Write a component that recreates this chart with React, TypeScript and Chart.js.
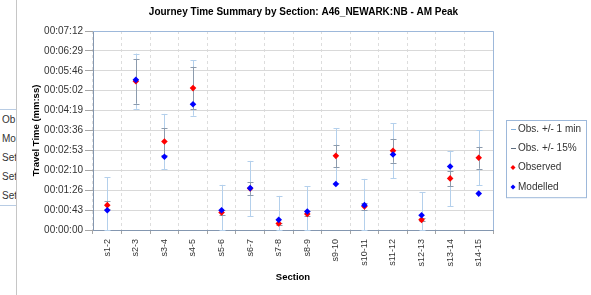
import React, { useEffect, useRef } from "react";
import { Chart, registerables } from "chart.js";

Chart.register(...registerables);

const chartTitle = "Journey Time Summary by Section: A46_NEWARK:NB - AM Peak";
const xAxisTitle = "Section";
const yAxisTitle = "Travel Time (mm:ss)";

const sections = ["s1-2", "s2-3", "s3-4", "s4-5", "s5-6", "s6-7", "s7-8", "s8-9", "s9-10", "s10-11", "s11-12", "s12-13", "s13-14", "s14-15"];
// travel times in seconds
const observedSec = [54, 323, 192, 308, 38, 90, 14, 35, 161, 51, 172, 22, 112, 157];
const modelledSec = [43, 326, 159, 273, 43, 91, 22, 40, 100, 54, 164, 32, 138, 79];

const yTickSeconds = [0, 43.2, 86.4, 129.6, 172.8, 216, 259.2, 302.4, 345.6, 388.8, 432];
const yTickLabels = ["00:00:00", "00:00:43", "00:01:26", "00:02:10", "00:02:53", "00:03:36", "00:04:19", "00:05:02", "00:05:46", "00:06:29", "00:07:12"];

const absTolSec = 60;
const pctTol = 0.15;

const legendLabels = ["Obs. +/- 1 min", "Obs. +/- 15%", "Observed", "Modelled"];
const sideLabels = ["Ob", "Mo", "Set", "Set", "Set"];

const FONT = "'Liberation Sans', Arial, sans-serif";
const C_ABS = "#B4D0EC";
const C_PCT = "#8C9BAD";
const C_OBS = "#FF0000";
const C_MOD = "#0000FF";
const C_FRAME = "#9DB8DA";

function drawBar(ctx: CanvasRenderingContext2D, x: number, yLo: number, yHi: number, color: string) {
  const cx = Math.round(x) + 0.5;
  ctx.strokeStyle = color;
  ctx.lineWidth = 1;
  ctx.beginPath();
  ctx.moveTo(cx, yLo);
  ctx.lineTo(cx, yHi);
  ctx.moveTo(cx - 3, Math.round(yHi) + 0.5);
  ctx.lineTo(cx + 3, Math.round(yHi) + 0.5);
  ctx.moveTo(cx - 3, Math.round(yLo) + 0.5);
  ctx.lineTo(cx + 3, Math.round(yLo) + 0.5);
  ctx.stroke();
}

const extrasPlugin = {
  id: "extras",
  beforeDatasetsDraw(chart: any) {
    const { ctx, chartArea } = chart;
    const xs = chart.scales.x;
    const ys = chart.scales.y;
    ctx.save();
    // plot frame (top / right)
    ctx.strokeStyle = C_FRAME;
    ctx.lineWidth = 1;
    ctx.beginPath();
    ctx.moveTo(chartArea.left, Math.round(chartArea.top) + 0.5);
    ctx.lineTo(Math.round(chartArea.right) + 0.5, Math.round(chartArea.top) + 0.5);
    ctx.lineTo(Math.round(chartArea.right) + 0.5, chartArea.bottom);
    ctx.stroke();
    // error bars
    observedSec.forEach((v, i) => {
      const px = xs.getPixelForValue(i);
      drawBar(ctx, px, ys.getPixelForValue(Math.max(0, v - absTolSec)), ys.getPixelForValue(v + absTolSec), C_ABS);
      drawBar(ctx, px, ys.getPixelForValue(v * (1 - pctTol)), ys.getPixelForValue(v * (1 + pctTol)), C_PCT);
    });
    ctx.restore();
  },
  afterDraw(chart: any) {
    const { ctx, chartArea } = chart;
    const left = Math.round(chartArea.right) + 13;
    const top = 120;
    const w = 80;
    const rowH = 19.3;
    const h = rowH * legendLabels.length + 0;
    ctx.save();
    ctx.strokeStyle = C_FRAME;
    ctx.lineWidth = 1;
    ctx.strokeRect(left + 0.5, top + 0.5, w, h);
    ctx.font = `10px ${FONT}`;
    ctx.textBaseline = "middle";
    ctx.textAlign = "left";
    const colors = [C_ABS, C_PCT, C_OBS, C_MOD];
    legendLabels.forEach((lab, i) => {
      const cy = top + 9 + i * rowH;
      const sx = left + 7;
      if (i < 2) {
        ctx.strokeStyle = i === 0 ? "#7FAEDC" : "#5F6E80";
        ctx.beginPath();
        ctx.moveTo(sx - 2, Math.round(cy) + 0.5);
        ctx.lineTo(sx + 3, Math.round(cy) + 0.5);
        ctx.stroke();
      } else {
        ctx.fillStyle = colors[i];
        ctx.beginPath();
        ctx.moveTo(sx, cy - 2.5);
        ctx.lineTo(sx + 2.5, cy);
        ctx.lineTo(sx, cy + 2.5);
        ctx.lineTo(sx - 2.5, cy);
        ctx.closePath();
        ctx.fill();
      }
      ctx.fillStyle = "#333333";
      ctx.fillText(lab, left + 12, cy);
    });
    ctx.restore();
  },
};

export default function App() {
  const ref = useRef<HTMLCanvasElement | null>(null);

  useEffect(() => {
    document.body.style.margin = "0";
    const canvas = ref.current;
    if (!canvas) return;
    Chart.defaults.font.family = FONT;
    const chart = new Chart(canvas, {
      type: "line",
      data: {
        labels: sections,
        datasets: [
          {
            label: "Observed",
            data: observedSec,
            showLine: false,
            pointStyle: "rectRot",
            pointRadius: 3.3,
            pointBackgroundColor: C_OBS,
            pointBorderColor: C_OBS,
            pointBorderWidth: 0,
            order: 1,
          },
          {
            label: "Modelled",
            data: modelledSec,
            showLine: false,
            pointStyle: "rectRot",
            pointRadius: 3.3,
            pointBackgroundColor: C_MOD,
            pointBorderColor: C_MOD,
            pointBorderWidth: 0,
            order: 0,
          },
        ],
      },
      options: {
        responsive: false,
        animation: false,
        devicePixelRatio: 1,
        layout: { padding: { left: 16, right: 0, top: 0, bottom: 0 } },
        plugins: {
          legend: { display: false },
          tooltip: { enabled: false },
          title: {
            display: true,
            text: chartTitle,
            color: "#000000",
            font: { family: FONT, size: 10, weight: "bold" },
            padding: { top: 6, bottom: 13 },
          },
        },
        scales: {
          x: {
            type: "category",
            offset: true,
            grid: {
              offset: true,
              color: "#DDDDDD",
              tickColor: "#A6A6A6",
              tickLength: 4,
            },
            border: { color: "#8497B0", dash: [3, 3] },
            ticks: {
              minRotation: 90,
              maxRotation: 90,
              padding: 5,
              color: "#333333",
              font: { family: FONT, size: 9 },
              autoSkip: false,
            },
            title: {
              display: true,
              text: xAxisTitle,
              color: "#000000",
              font: { family: FONT, size: 9.5, weight: "bold" },
              padding: { top: 0, bottom: 12 },
            },
            afterFit(scale: any) {
              scale.height = 65;
            },
          },
          y: {
            type: "linear",
            position: "left",
            min: 0,
            max: 432,
            grid: { color: "#D9D9D9", tickColor: "#A6A6A6", tickLength: 8 },
            border: { color: "#8497B0" },
            afterBuildTicks(scale: any) {
              scale.ticks = yTickSeconds.map((v) => ({ value: v }));
            },
            ticks: {
              padding: 2,
              color: "#333333",
              font: { family: FONT, size: 10 },
              callback: (_v: any, i: number) => yTickLabels[i],
            },
            title: {
              display: true,
              text: yAxisTitle,
              color: "#000000",
              font: { family: FONT, size: 9.5, weight: "bold" },
              padding: { top: 15, bottom: 0 },
            },
            afterFit(scale: any) {
              scale.width = 77;
            },
          },
          yRight: {
            type: "linear",
            position: "right",
            display: true,
            grid: { display: false, drawTicks: false },
            border: { display: false },
            ticks: { display: false },
            afterFit(scale: any) {
              scale.width = 98;
            },
          },
        },
      },
      plugins: [extrasPlugin],
    } as any);
    return () => chart.destroy();
  }, []);

  const sideTop = [120, 139, 158, 177, 196];
  return (
    <div style={{ position: "relative", width: 591, height: 295, background: "#ffffff", overflow: "hidden" }}>
      <div style={{ position: "absolute", left: 16, top: 0, width: 1, height: 295, background: "#C6C6C6" }} />
      <div style={{ position: "absolute", left: 0, top: 109, width: 16, height: 1, background: "#B8CCE4" }} />
      <div style={{ position: "absolute", left: 0, top: 205, width: 16, height: 1, background: "#B8CCE4" }} />
      {sideLabels.map((t, i) => (
        <div
          key={i}
          style={{
            position: "absolute",
            left: 2,
            top: sideTop[i] - 6,
            width: 14,
            overflow: "hidden",
            whiteSpace: "nowrap",
            font: `10px ${FONT}`,
            lineHeight: "12px",
            color: "#333333",
          }}
        >
          {t}
        </div>
      ))}
      <canvas ref={ref} width={591} height={295} style={{ position: "absolute", left: 0, top: 0 }} />
    </div>
  );
}
